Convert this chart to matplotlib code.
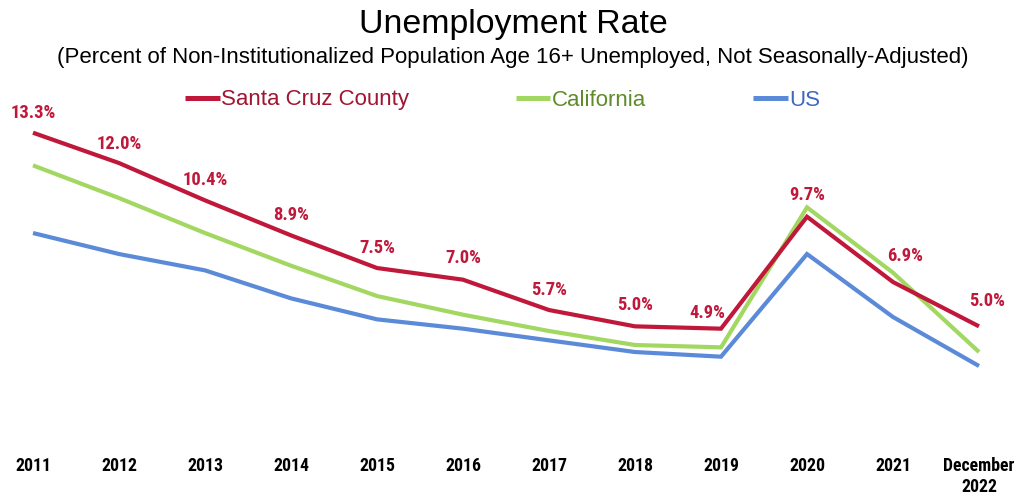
import matplotlib
matplotlib.use("Agg")
import matplotlib.pyplot as plt
from matplotlib import font_manager

# pick a narrow sans family with both regular and bold faces (for the bold labels)
_fonts = font_manager.fontManager.ttflist
def _has(name):
    ws = {int(f.weight) if str(f.weight).isdigit() else 400 for f in _fonts if f.name == name}
    return any(w <= 500 for w in ws) and any(w >= 700 for w in ws)
_cands = ['Liberation Sans Narrow', 'Arial Narrow', 'Nimbus Sans Narrow', 'Roboto Condensed',
          'PT Sans Narrow', 'IBM Plex Sans Condensed', 'Fira Sans Condensed', 'Liberation Sans']
NARROW = next((c for c in _cands if _has(c)), 'DejaVu Sans')
REG = 'Liberation Sans' if _has('Liberation Sans') else 'DejaVu Sans'
plt.rcParams['font.family'] = [REG, 'DejaVu Sans']

categories = ["2011", "2012", "2013", "2014", "2015", "2016", "2017", "2018",
              "2019", "2020", "2021", "December\n2022"]
santa_cruz = [13.3, 12.0, 10.4, 8.9, 7.5, 7.0, 5.7, 5.0, 4.9, 9.7, 6.9, 5.0]
california = [11.9, 10.5, 9.0, 7.6, 6.3, 5.5, 4.8, 4.2, 4.1, 10.1, 7.3, 3.9]
us = [9.0, 8.1, 7.4, 6.2, 5.3, 4.9, 4.4, 3.9, 3.7, 8.1, 5.4, 3.3]

# label offsets in pixels (dx, dy)
label_offsets = [(0, 20), (0, 19), (0, 20), (0, 20), (0, 20), (0, 22), (0, 20),
                 (0, 21), (-14, 16), (0, 22), (12, 26), (8, 25)]

C_SC, C_CA, C_US = '#C0183A', '#A2D862', '#5B8AD9'
T_SC, T_CA, T_US = '#A01530', '#5E8C2A', '#3D67C2'

fig = plt.figure(figsize=(10.26, 5.0), dpi=100)
ax = fig.add_axes([0, 57/500, 1, (443-90)/500])
x = list(range(len(categories)))
ax.set_xlim(-33/86, (1026-33)/86)
ax.set_ylim(0, (443-90)/23.33)

l1, = ax.plot(x, santa_cruz, color=C_SC, lw=3.0, solid_joinstyle='miter', solid_capstyle='butt')
l2, = ax.plot(x, california, color=C_CA, lw=3.0, solid_joinstyle='miter', solid_capstyle='butt')
l3, = ax.plot(x, us, color=C_US, lw=3.0, solid_joinstyle='miter', solid_capstyle='butt')
l1.set_zorder(3)

for i, v in enumerate(santa_cruz):
    dx, dy = label_offsets[i]
    ax.annotate(f"{v:.1f}%", (i, v), xytext=(dx*0.72, dy*0.72), textcoords='offset points',
                ha='center', va='center', color=C_SC, fontsize=13.3, fontweight='bold',
                family=[NARROW, 'DejaVu Sans'])

for s in ax.spines.values():
    s.set_visible(False)
ax.set_yticks([])
ax.set_xticks(x)
ax.set_xticklabels(categories, fontsize=12.8, fontweight='bold', linespacing=1.2,
                   family=[NARROW, 'DejaVu Sans'])
ax.tick_params(axis='x', length=0, pad=10)

fig.text(0.5, 0.952, "Unemployment Rate", ha='center', va='center', fontsize=24.4)
fig.text(0.5, 0.884, "(Percent of Non-Institutionalized Population Age 16+ Unemployed, Not Seasonally-Adjusted)",
         ha='center', va='center', fontsize=16.0)

leg = fig.legend([l1, l2, l3], ["Santa Cruz County", "California", "US"], loc='center',
                 bbox_to_anchor=(0.49, 0.8), ncol=3, frameon=False, fontsize=16,
                 handlelength=1.55, handletextpad=0.08, columnspacing=4.8)
for t, c in zip(leg.get_texts(), [T_SC, T_CA, T_US]):
    t.set_color(c)
for h in leg.legend_handles:
    h.set_linewidth(3.6)

fig.savefig("out.png", dpi=100)
